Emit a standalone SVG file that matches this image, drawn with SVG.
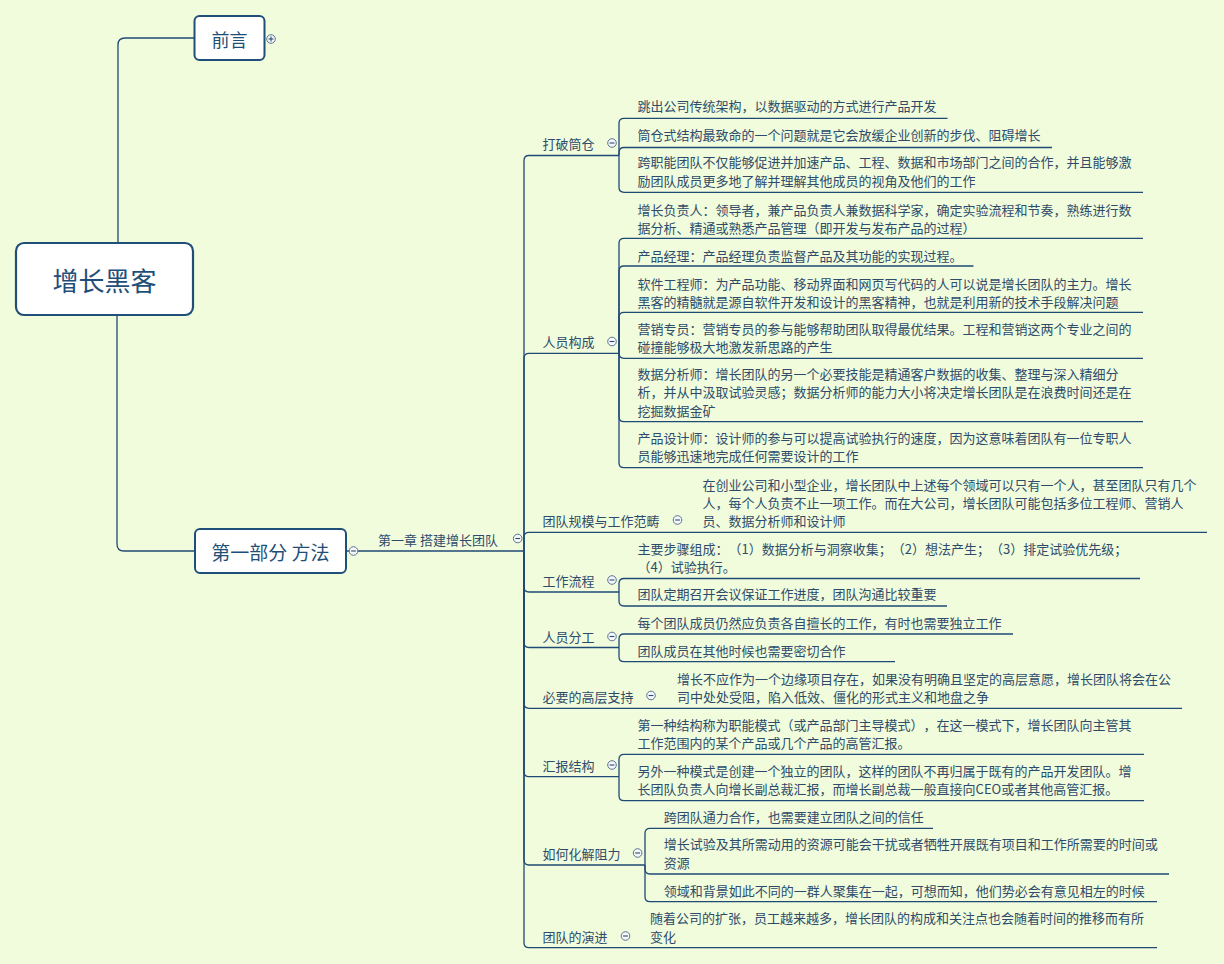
<svg xmlns="http://www.w3.org/2000/svg" width="1224" height="964" viewBox="0 0 1224 964">
<style>
.bg{fill:#F0FCDC}
.box{fill:#FFFFFF;stroke:#1F4E79;stroke-width:2.2}
.ln{fill:none;stroke:#1F4A75;stroke-width:1.3}
.t{font-family:"Noto Sans CJK SC","Microsoft YaHei",sans-serif;fill:#2E4B6A;dominant-baseline:central;text-spacing-trim:space-all;font-feature-settings:"halt" 0,"chws" 0}
.s13{font-size:13px}
.big{font-size:26px;fill:#1F4E79}
.mid{font-size:18px;fill:#1F4E79}
.sec{font-size:19px;fill:#1F4E79}
.tg{fill:#F4F7FB;stroke:#5B7391;stroke-width:1}
.tm{stroke:#2E4B6A;stroke-width:1.1}
</style>
<defs>
<g id="minus"><circle class="tg" cx="0" cy="0" r="4.3"/><line class="tm" x1="-2.4" y1="0" x2="2.4" y2="0"/></g>
<g id="plus"><circle class="tg" cx="0" cy="0" r="4.3"/><line class="tm" x1="-2.4" y1="0" x2="2.4" y2="0"/><line class="tm" x1="0" y1="-2.4" x2="0" y2="2.4"/></g>
</defs>
<rect class="bg" x="0" y="0" width="1224" height="964"/>

<g id="connectors">
<path class="ln" d="M118,243 V45 Q118,38 125,38 H194"/>
<path class="ln" d="M117,315 V544 Q117,551 124,551 H195"/>
<path class="ln" d="M346,551 H524"/>
<!-- level 3 -->
<path class="ln" d="M524,551 V160.5 Q524,155.5 529,155.5 H619"/>
<path class="ln" d="M524,551 V358.3 Q524,353.3 529,353.3 H619"/>
<path class="ln" d="M524,551 V537.3 Q524,532.3 529,532.3 H1207"/>
<path class="ln" d="M524,551 V587 Q524,592 529,592 H619"/>
<path class="ln" d="M524,551 V642.5 Q524,647.5 529,647.5 H619"/>
<path class="ln" d="M524,551 V703.3 Q524,708.3 529,708.3 H1182"/>
<path class="ln" d="M524,551 V771.7 Q524,776.7 529,776.7 H619"/>
<path class="ln" d="M524,551 V860 Q524,865 529,865 H645"/>
<path class="ln" d="M524,551 V942.7 Q524,947.7 529,947.7 H1157"/>
<!-- 打破筒仓 -->
<path class="ln" d="M619,155.5 V123.3 Q619,118.3 624,118.3 H947.5"/>
<path class="ln" d="M619,155.5 V152.5 Q619,147.5 624,147.5 H1052"/>
<path class="ln" d="M619,155.5 V187.3 Q619,192.3 624,192.3 H1143"/>
<!-- 人员构成 -->
<path class="ln" d="M619,353.3 V243.3 Q619,238.3 624,238.3 H1143"/>
<path class="ln" d="M619,353.3 V271 Q619,266 624,266 H973.5"/>
<path class="ln" d="M619,353.3 V317.3 Q619,312.3 624,312.3 H1143"/>
<path class="ln" d="M619,353.3 Q619,358.3 624,358.3 H1143"/>
<path class="ln" d="M619,353.3 V416.7 Q619,421.7 624,421.7 H1143"/>
<path class="ln" d="M619,353.3 V462.7 Q619,467.7 624,467.7 H1143"/>
<!-- 工作流程 -->
<path class="ln" d="M619,592 V583.5 Q619,578.5 624,578.5 H1140"/>
<path class="ln" d="M619,592 V601 Q619,606 624,606 H947"/>
<!-- 人员分工 -->
<path class="ln" d="M619,647.5 V639 Q619,634 624,634 H1013"/>
<path class="ln" d="M619,647.5 V656.7 Q619,661.7 624,661.7 H895"/>
<!-- 汇报结构 -->
<path class="ln" d="M619,776.7 V759.3 Q619,754.3 624,754.3 H1144"/>
<path class="ln" d="M619,776.7 V795.7 Q619,800.7 624,800.7 H1144"/>
<!-- 如何化解阻力 -->
<path class="ln" d="M645,865 V833.3 Q645,828.3 650,828.3 H933"/>
<path class="ln" d="M645,865 V869 Q645,874 650,874 H1169"/>
<path class="ln" d="M645,865 V896.7 Q645,901.7 650,901.7 H1157"/>
</g>

<g id="root">
<rect class="box" x="16" y="243" width="177" height="72" rx="8"/>
<text class="t big" x="104.5" y="279.5" text-anchor="middle">增长黑客</text>
</g>

<g id="n-preface">
<rect class="box" x="194.5" y="16" width="70" height="44" rx="5" style="stroke-width:2"/>
<text class="t mid" x="229.5" y="39" text-anchor="middle">前言</text>
<use href="#plus" x="271" y="39"/>
</g>

<g id="n-part1">
<rect class="box" x="195" y="529" width="151" height="44" rx="5" style="stroke-width:2"/>
<text class="t sec" x="270.5" y="551" text-anchor="middle">第一部分 方法</text>
<use href="#minus" x="353.5" y="551"/>
</g>

<g id="n-ch1">
<text class="t s13" x="378" y="539">第一章 搭建增长团队</text>
<use href="#minus" x="517.7" y="538.5"/>
</g>

<g id="n-silo">
<text class="t s13" x="542.5" y="143">打破筒仓</text>
<use href="#minus" x="612" y="143"/>
</g>
<g id="n-silo-1"><text class="t s13" x="637.6" y="105">跳出公司传统架构，以数据驱动的方式进行产品开发</text></g>
<g id="n-silo-2"><text class="t s13" x="637.6" y="134.5">筒仓式结构最致命的一个问题就是它会放缓企业创新的步伐、阻碍增长</text></g>
<g id="n-silo-3"><text class="t s13" x="637.6" y="161.5">跨职能团队不仅能够促进并加速产品、工程、数据和市场部门之间的合作，并且能够激</text><text class="t s13" x="637.6" y="180">励团队成员更多地了解并理解其他成员的视角及他们的工作</text></g>

<g id="n-staff">
<text class="t s13" x="542.5" y="341.5">人员构成</text>
<use href="#minus" x="612" y="341.5"/>
</g>
<g id="n-staff-1"><text class="t s13" x="637.6" y="209">增长负责人：领导者，兼产品负责人兼数据科学家，确定实验流程和节奏，熟练进行数</text><text class="t s13" x="637.6" y="227.5">据分析、精通或熟悉产品管理（即开发与发布产品的过程）</text></g>
<g id="n-staff-2"><text class="t s13" x="637.6" y="255">产品经理：产品经理负责监督产品及其功能的实现过程。</text></g>
<g id="n-staff-3"><text class="t s13" x="637.6" y="283">软件工程师：为产品功能、移动界面和网页写代码的人可以说是增长团队的主力。增长</text><text class="t s13" x="637.6" y="301">黑客的精髓就是源自软件开发和设计的黑客精神，也就是利用新的技术手段解决问题</text></g>
<g id="n-staff-4"><text class="t s13" x="637.6" y="328.5">营销专员：营销专员的参与能够帮助团队取得最优结果。工程和营销这两个专业之间的</text><text class="t s13" x="637.6" y="346.5">碰撞能够极大地激发新思路的产生</text></g>
<g id="n-staff-5"><text class="t s13" x="637.6" y="373">数据分析师：增长团队的另一个必要技能是精通客户数据的收集、整理与深入精细分</text><text class="t s13" x="637.6" y="391.5">析，并从中汲取试验灵感；数据分析师的能力大小将决定增长团队是在浪费时间还是在</text><text class="t s13" x="637.6" y="410">挖掘数据金矿</text></g>
<g id="n-staff-6"><text class="t s13" x="637.6" y="437">产品设计师：设计师的参与可以提高试验执行的速度，因为这意味着团队有一位专职人</text><text class="t s13" x="637.6" y="455.5">员能够迅速地完成任何需要设计的工作</text></g>

<g id="n-scale">
<text class="t s13" x="542.5" y="520">团队规模与工作范畴</text>
<use href="#minus" x="677.5" y="520"/>
</g>
<g id="n-scale-1"><text class="t s13" x="702.5" y="484.5">在创业公司和小型企业，增长团队中上述每个领域可以只有一个人，甚至团队只有几个</text><text class="t s13" x="702.5" y="502.5">人，每个人负责不止一项工作。而在大公司，增长团队可能包括多位工程师、营销人</text><text class="t s13" x="702.5" y="520.5">员、数据分析师和设计师</text></g>

<g id="n-flow">
<text class="t s13" x="542.5" y="580">工作流程</text>
<use href="#minus" x="612" y="580"/>
</g>
<g id="n-flow-1"><text class="t s13" x="637.6" y="548">主要步骤组成：（1）数据分析与洞察收集；（2）想法产生；（3）排定试验优先级；</text><text class="t s13" x="637.6" y="566">（4）试验执行。</text></g>
<g id="n-flow-2"><text class="t s13" x="637.6" y="593.5">团队定期召开会议保证工作进度，团队沟通比较重要</text></g>

<g id="n-division">
<text class="t s13" x="542.5" y="636.5">人员分工</text>
<use href="#minus" x="612" y="636.5"/>
</g>
<g id="n-division-1"><text class="t s13" x="637.6" y="622.5">每个团队成员仍然应负责各自擅长的工作，有时也需要独立工作</text></g>
<g id="n-division-2"><text class="t s13" x="637.6" y="650">团队成员在其他时候也需要密切合作</text></g>

<g id="n-exec">
<text class="t s13" x="542.5" y="696">必要的高层支持</text>
<use href="#minus" x="651" y="695.5"/>
</g>
<g id="n-exec-1"><text class="t s13" x="677" y="678">增长不应作为一个边缘项目存在，如果没有明确且坚定的高层意愿，增长团队将会在公</text><text class="t s13" x="677" y="696.5">司中处处受阻，陷入低效、僵化的形式主义和地盘之争</text></g>

<g id="n-report">
<text class="t s13" x="542.5" y="765">汇报结构</text>
<use href="#minus" x="612" y="765"/>
</g>
<g id="n-report-1"><text class="t s13" x="637.6" y="724">第一种结构称为职能模式（或产品部门主导模式），在这一模式下，增长团队向主管其</text><text class="t s13" x="637.6" y="742.5">工作范围内的某个产品或几个产品的高管汇报。</text></g>
<g id="n-report-2"><text class="t s13" x="637.6" y="770">另外一种模式是创建一个独立的团队，这样的团队不再归属于既有的产品开发团队。增</text><text class="t s13" x="637.6" y="788.5">长团队负责人向增长副总裁汇报，而增长副总裁一般直接向CEO或者其他高管汇报。</text></g>

<g id="n-resist">
<text class="t s13" x="542.5" y="853">如何化解阻力</text>
<use href="#minus" x="637.6" y="853"/>
</g>
<g id="n-resist-1"><text class="t s13" x="663.7" y="816">跨团队通力合作，也需要建立团队之间的信任</text></g>
<g id="n-resist-2"><text class="t s13" x="663.7" y="843.5">增长试验及其所需动用的资源可能会干扰或者牺牲开展既有项目和工作所需要的时间或</text><text class="t s13" x="663.7" y="862">资源</text></g>
<g id="n-resist-3"><text class="t s13" x="663.7" y="890.5">领域和背景如此不同的一群人聚集在一起，可想而知，他们势必会有意见相左的时候</text></g>

<g id="n-evolve">
<text class="t s13" x="542.5" y="936">团队的演进</text>
<use href="#minus" x="625.5" y="936"/>
</g>
<g id="n-evolve-1"><text class="t s13" x="650" y="917.5">随着公司的扩张，员工越来越多，增长团队的构成和关注点也会随着时间的推移而有所</text><text class="t s13" x="650" y="936">变化</text></g>
</svg>
